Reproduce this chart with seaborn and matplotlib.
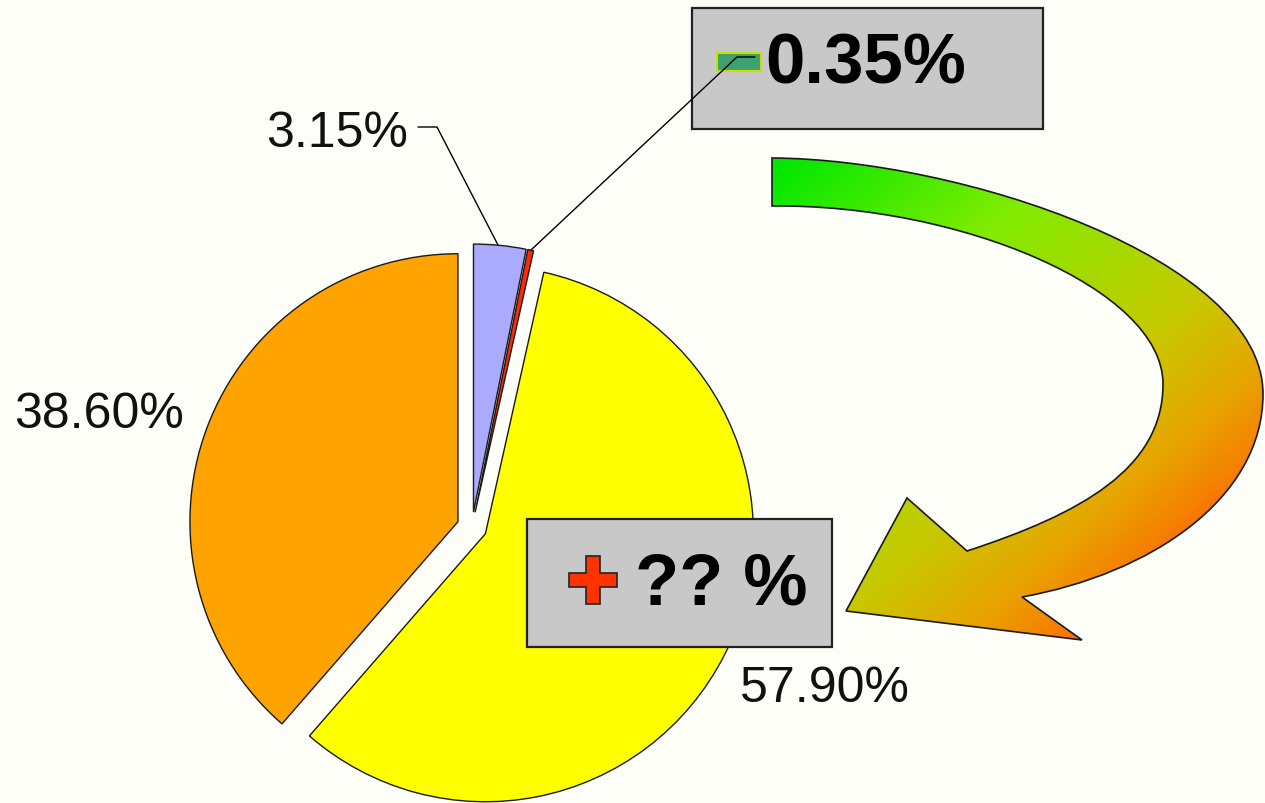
import numpy as np
import matplotlib
matplotlib.use("Agg")
import matplotlib.pyplot as plt
import seaborn as sns
from matplotlib.path import Path
from matplotlib.patches import PathPatch, Rectangle, Polygon
from matplotlib.colors import LinearSegmentedColormap

# data
shares = [3.15, 0.35, 57.90, 38.60]
slice_names = ["blue", "red", "yellow", "orange"]
slice_colors = ["#AAAAFF", "#FF2A00", "#FFFF00", "#FFA300"]
unknown_label = "?? %"

W, H = 1265, 804
BG = "#FEFEF8"
PIE_R = 268
# pie offsets are in data units (pixels here)
explode = [15, 15, 15, 15]

sns.set_style("white")
plt.rcParams["font.family"] = ["Liberation Sans", "DejaVu Sans"]


def fy(y):
    # image pixel row -> data y
    return H - y


fig = plt.figure(figsize=(W / 100, H / 100), dpi=100, facecolor=BG)
ax = fig.add_axes([0, 0, 1, 1])
ax.set_facecolor(BG)

wedges, _ = ax.pie(
    shares,
    colors=slice_colors,
    explode=explode,
    startangle=90,
    counterclock=False,
    radius=PIE_R,
    center=(472, fy(528)),
    wedgeprops=dict(edgecolor="#1a1a1a", linewidth=1.0),
)
ax.set_xlim(0, W)
ax.set_ylim(0, H)
ax.set_aspect("equal")
ax.axis("off")

# --- percentage labels
lbl = dict(fontsize=36, color="#111111", ha="left", va="baseline")
ax.text(266, fy(147), f"{shares[0]:.2f}%", **lbl)
ax.text(14, fy(428), f"{shares[3]:.2f}%", **lbl)
ax.text(740, fy(702), f"{shares[2]:.2f}%", **lbl)

# leader for 3.15%
ax.plot([418, 437, 498], [fy(128), fy(128), fy(246)], color="black", lw=1)

# --- box for the small red slice
ax.add_patch(Rectangle((692, fy(130)), 351, 121, facecolor="#C8C8C8",
                       edgecolor="#222222", lw=1.6, zorder=3))
ax.add_patch(Rectangle((717, fy(72)), 44, 18, facecolor="#3FA072",
                       edgecolor="#C8E000", lw=1.5, zorder=4))
ax.plot([531, 737, 755], [fy(251), fy(58), fy(58)], color="black", lw=1, zorder=5)
ax.text(765, fy(83), f"{shares[1]:.2f}%", fontsize=51, fontweight="bold",
        color="black", ha="left", va="baseline", zorder=5)

# --- box with the unknown gain
ax.add_patch(Rectangle((527, fy(648)), 305, 128, facecolor="#C8C8C8",
                       edgecolor="#222222", lw=1.6, zorder=3))
cx, cy, a, t = 593, 581, 24, 7
plus = [(cx - t, cy - a), (cx + t, cy - a), (cx + t, cy - t), (cx + a, cy - t),
        (cx + a, cy + t), (cx + t, cy + t), (cx + t, cy + a), (cx - t, cy + a),
        (cx - t, cy + t), (cx - a, cy + t), (cx - a, cy - t), (cx - t, cy - t)]
ax.add_patch(Polygon([(x, fy(y)) for x, y in plus], closed=True,
                     facecolor="#FF3300", edgecolor="#222222", lw=1.2, zorder=4))
ax.text(635, fy(605), unknown_label, fontsize=52, fontweight="bold",
        color="black", ha="left", va="baseline", zorder=5)

# --- curved gradient arrow
verts = [
    (772, 159),
    (960, 160), (1263, 260), (1263, 395),
    (1263, 500), (1150, 575), (1022, 598),
    (1082, 641),
    (846, 612),
    (907, 499),
    (967, 552),
    (1080, 515), (1163, 470), (1163, 385),
    (1163, 290), (960, 205), (772, 207),
    (772, 159),
]
codes = [Path.MOVETO,
         Path.CURVE4, Path.CURVE4, Path.CURVE4,
         Path.CURVE4, Path.CURVE4, Path.CURVE4,
         Path.LINETO, Path.LINETO, Path.LINETO, Path.LINETO,
         Path.CURVE4, Path.CURVE4, Path.CURVE4,
         Path.CURVE4, Path.CURVE4, Path.CURVE4,
         Path.CLOSEPOLY]
arrow_path = Path([(x, fy(y)) for x, y in verts], codes)
arrow = PathPatch(arrow_path, facecolor="none", edgecolor="#1a1a1a", lw=1.2, zorder=3)
ax.add_patch(arrow)

p0, p1 = 960, 1870
stops = [(960, "#00E800"), (1243, "#80EC00"), (1540, "#C8C800"),
         (1680, "#E8A400"), (1760, "#F48400"), (1870, "#FF5000")]
grad_cmap = LinearSegmentedColormap.from_list(
    "arrow", [((p - p0) / (p1 - p0), c) for p, c in stops])
xs = np.linspace(760, 1270, 260)
ys = np.linspace(150, 650, 260)
gx, gy = np.meshgrid(xs, ys)
gval = gx + 1.13 * gy
img = ax.imshow(gval, cmap=grad_cmap, vmin=p0, vmax=p1, origin="upper",
                extent=(760, 1270, fy(650), fy(150)), interpolation="bilinear",
                zorder=2, aspect="auto")
img.set_clip_path(arrow)
ax.set_xlim(0, W)
ax.set_ylim(0, H)

fig.savefig("out.png", dpi=100, facecolor=BG)
